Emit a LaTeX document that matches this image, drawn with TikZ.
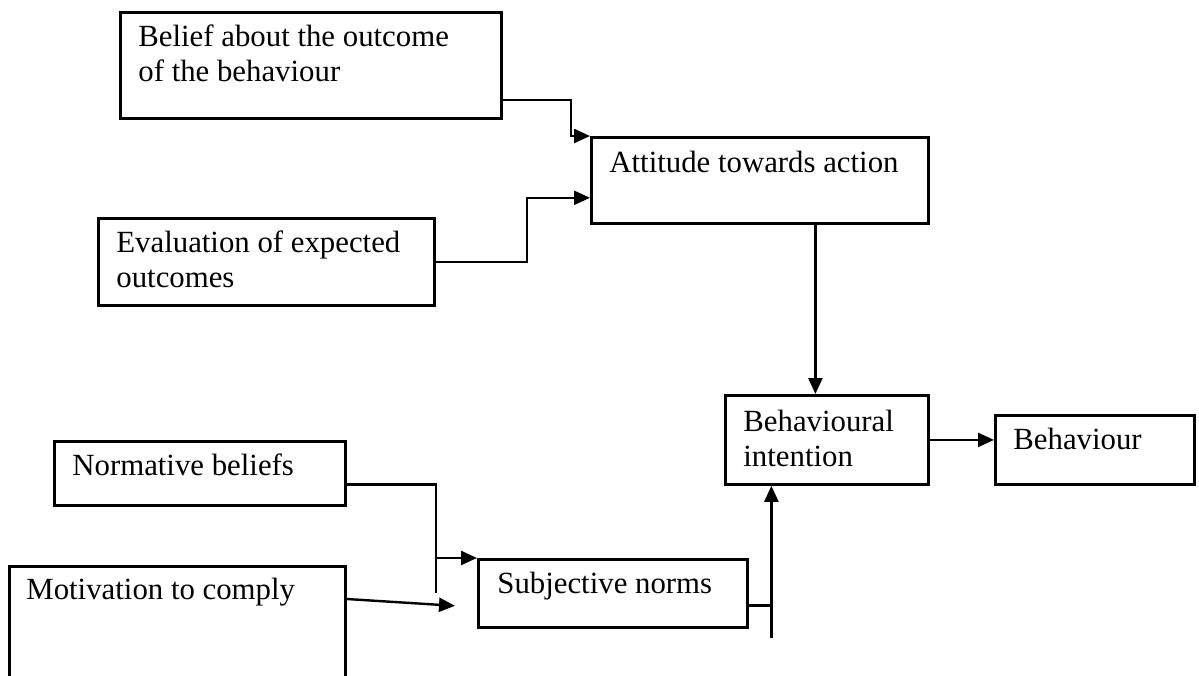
\documentclass[tikz,border=0pt]{standalone}
\usepackage{fontspec}
\setmainfont{Liberation Serif}
\usetikzlibrary{positioning, arrows.meta}

\begin{document}
\begin{tikzpicture}[
        x=0.5pt, y=-0.5pt,
        >={Triangle[length=8pt, width=7pt]},
        box/.style={draw, rectangle, line width=1.4pt, anchor=north west, inner sep=0pt},
        lbl/.style={anchor=base west, align=left, inner sep=0pt, font=\fontsize{15.4}{17.5}\selectfont},
        link/.style={line width=1.2pt},
        conn/.style={->, line width=1.2pt}
    ]
    \clip (0,0) rectangle (1199,675);

    % --- Boxes ---
    \node[box, minimum width=190.5pt, minimum height=53pt] (belief) at (119,11) {};
    \node[box, minimum width=168pt, minimum height=43.5pt] (evaluation) at (97,217) {};
    \node[box, minimum width=168.5pt, minimum height=43pt] (attitude) at (590,136) {};
    \node[box, minimum width=101.5pt, minimum height=44.5pt] (intention) at (724,394) {};
    \node[box, minimum width=99.5pt, minimum height=34.5pt] (behaviour) at (994,414) {};
    \node[box, minimum width=145.5pt, minimum height=32pt] (normative) at (53,440) {};
    \node[box, minimum width=168pt, minimum height=60pt] (motivation) at (8,565) {};
    \node[box, minimum width=134.5pt, minimum height=34pt] (subjective) at (477,558) {};

    % --- Labels (base = last line) ---
    \node[lbl] (belief_label) at ([shift={(19,70)}]belief.north west) {Belief about the outcome\\of the behaviour};
    \node[lbl] (evaluation_label) at ([shift={(19,70)}]evaluation.north west) {Evaluation of expected\\outcomes};
    \node[lbl] (attitude_label) at ([shift={(19,36)}]attitude.north west) {Attitude towards action};
    \node[lbl] (intention_label) at ([shift={(19,72)}]intention.north west) {Behavioural\\intention};
    \node[lbl] (behaviour_label) at ([shift={(19,35)}]behaviour.north west) {Behaviour};
    \node[lbl] (normative_label) at ([shift={(19,35)}]normative.north west) {Normative beliefs};
    \node[lbl] (motivation_label) at ([shift={(18,34)}]motivation.north west) {Motivation to comply};
    \node[lbl] (subjective_label) at ([shift={(20,35)}]subjective.north west) {Subjective norms};

    % --- Edges: Attitude ---
    \draw[conn] ([yshift=10pt]belief.south east) -- ++(68,0) |- (attitude.north west);
    \draw[conn] (evaluation.east) -- ++(91,0) |- ([yshift=13.5pt]attitude.south west);
    \draw[conn] ([xshift=-5.75pt]intention.north |- attitude.south) -- ([xshift=-5.75pt]intention.north);

    % --- Edges: Subjective norms ---
    \draw[link] ([yshift=-5.5pt]normative.east) -- ++(89,0) coordinate (nb_turn) -- ++(0,109);
    \draw[conn] (nb_turn |- subjective.north west) -- (subjective.north west);
    \coordinate (mc_end) at ([xshift=-11pt, yshift=11.5pt]subjective.south west);
    \draw[conn] ([yshift=-17pt]motivation.north east) -- (mc_end);

    % --- Edges: Intention & Behaviour ---
    \coordinate (sn_foot) at ([xshift=-27.75pt, yshift=-76pt]intention.south);
    \draw[link] ([yshift=-6pt]subjective.east) -- ([yshift=-6pt]subjective.east -| sn_foot);
    \draw[conn] (sn_foot) -- (sn_foot |- intention.south);
    \draw[conn] (intention.east) -- (intention.east -| behaviour.west);

\end{tikzpicture}
\end{document}
